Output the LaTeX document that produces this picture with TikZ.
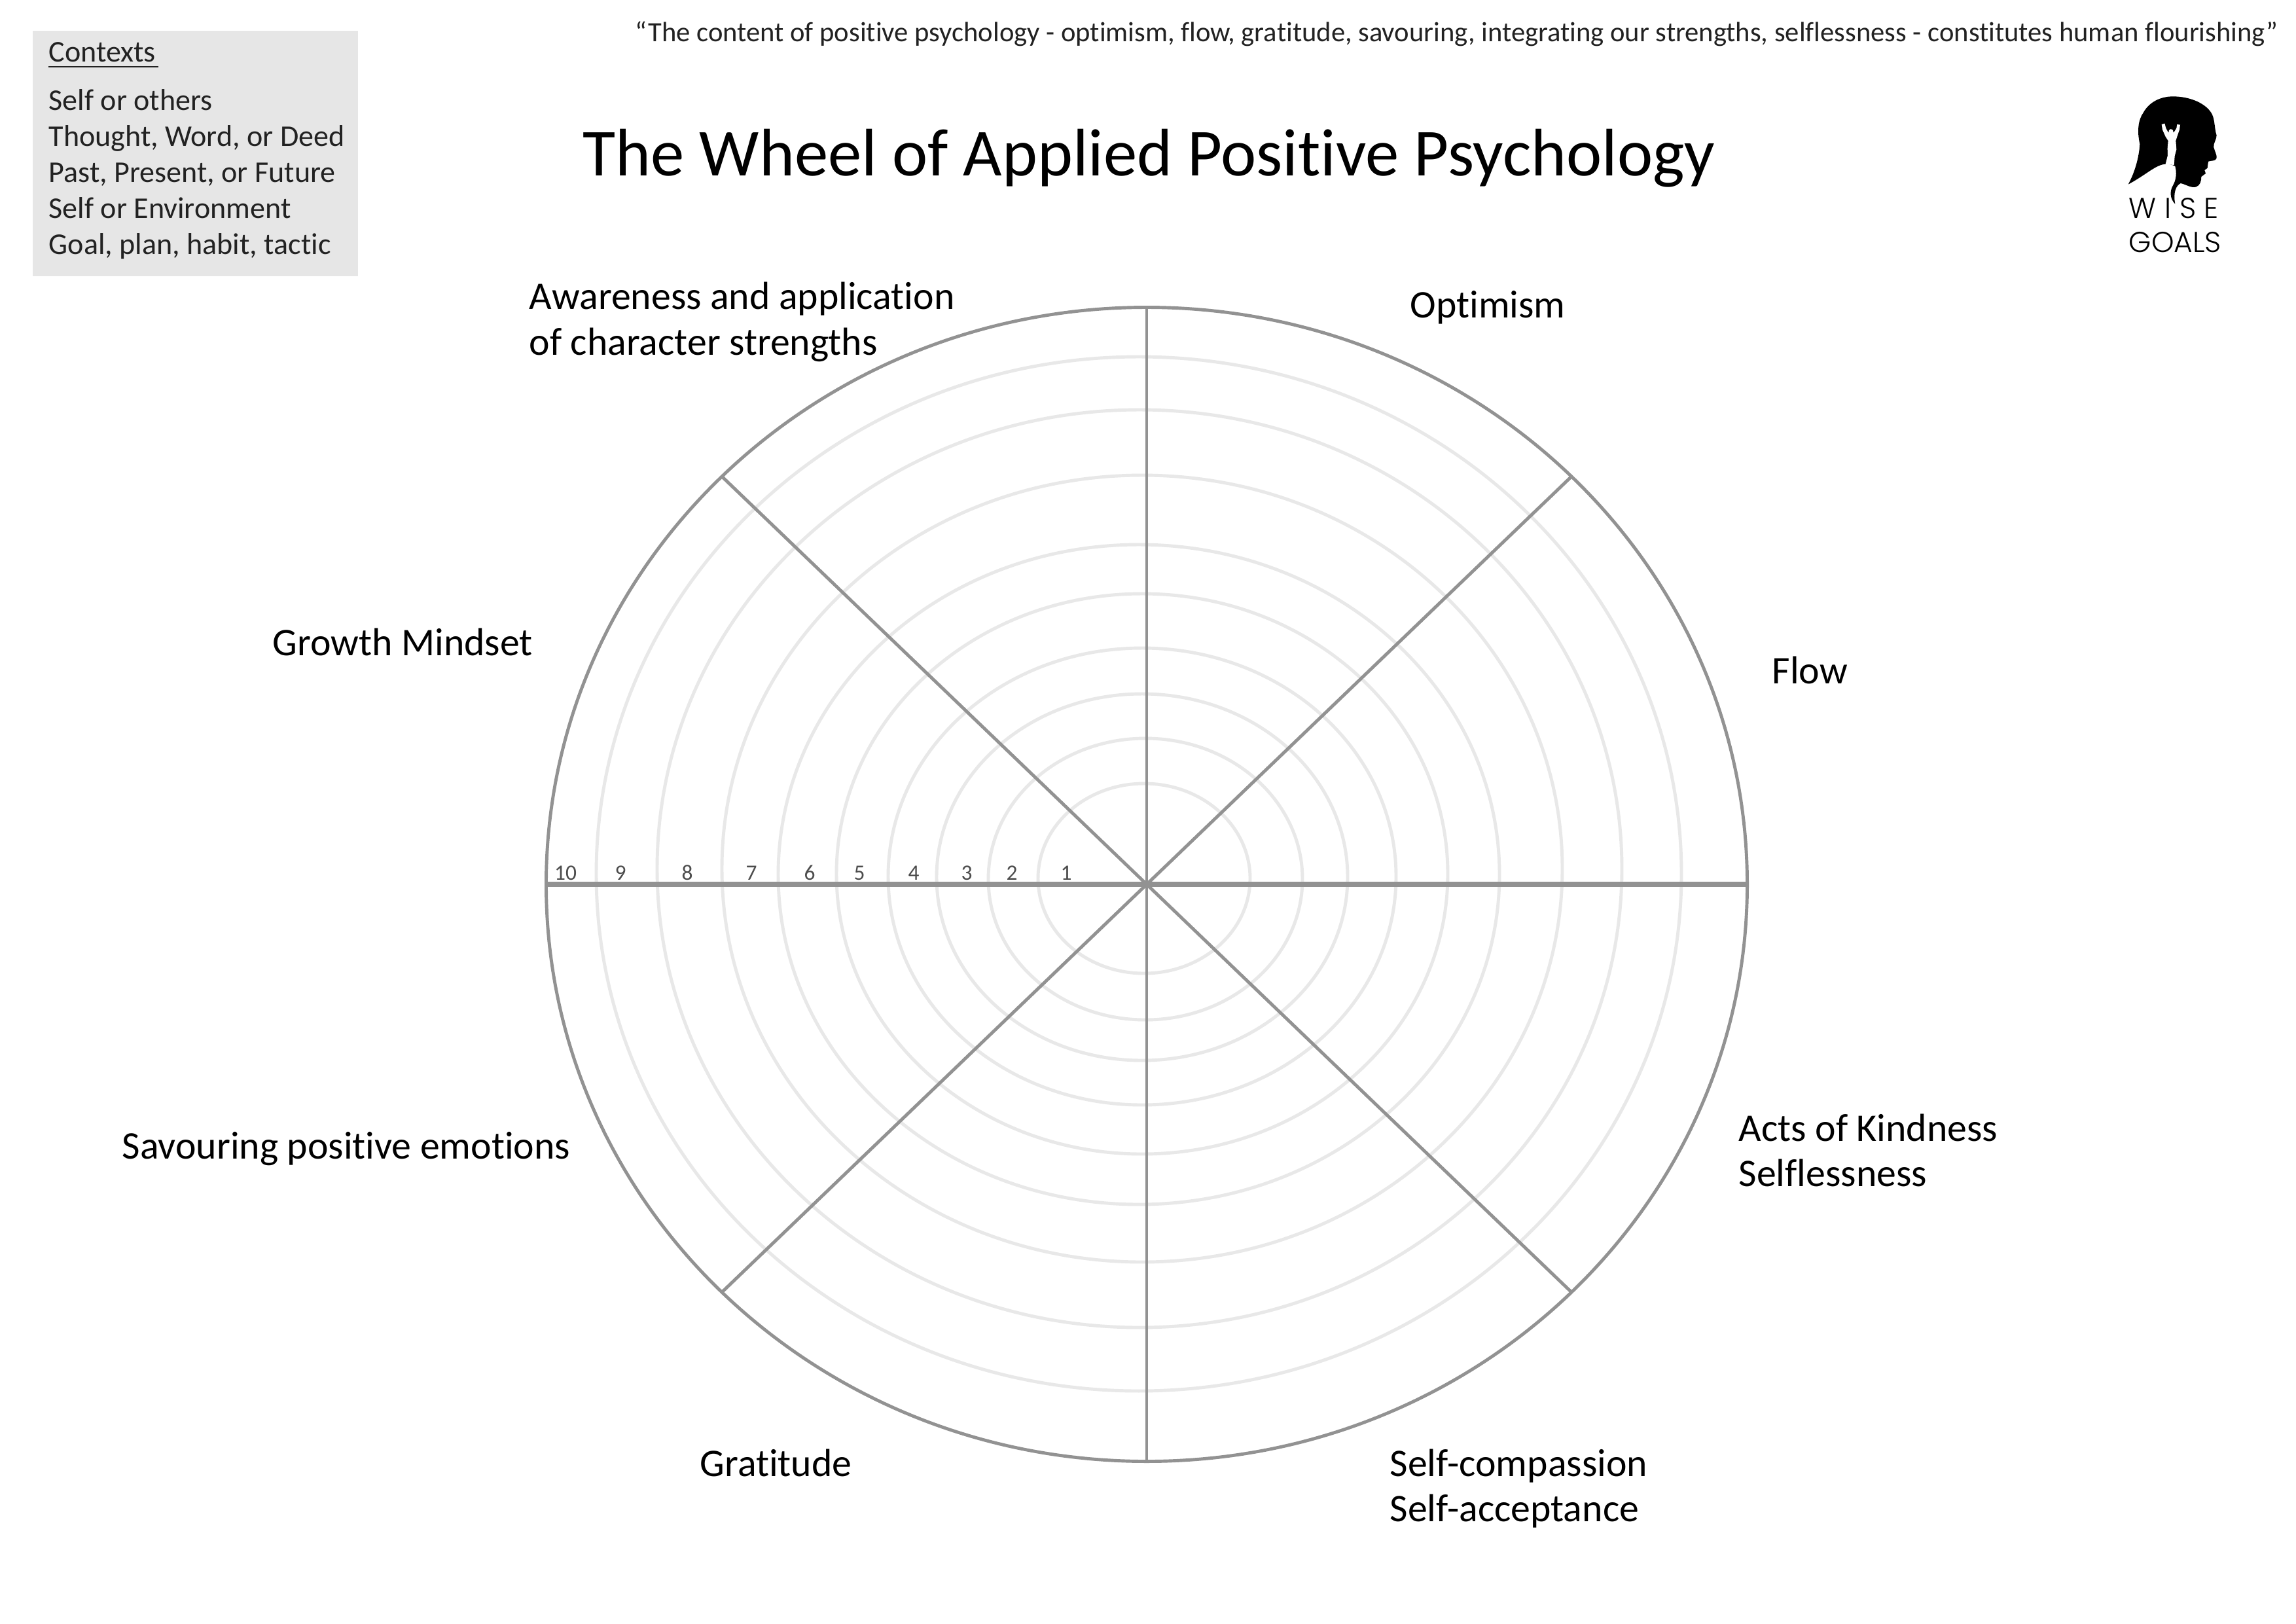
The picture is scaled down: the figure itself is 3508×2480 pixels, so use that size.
\documentclass[tikz,border=0pt]{standalone}
\usepackage{fontspec}
\setmainfont{Carlito}[Ligatures=NoCommon]
\newfontfamily\logofont{Poppins Light}
\definecolor{ringgray}{HTML}{E8E8E8}
\definecolor{spokegray}{HTML}{929292}
\definecolor{boxgray}{HTML}{E6E6E6}
\definecolor{inkgray}{HTML}{222222}
\tikzset{
  ringline/.style={draw=ringgray,line width=1.4pt},
  spoke/.style={draw=spokegray,line width=1.4pt},
  axisline/.style={draw=spokegray,line width=2.1pt},
  rimline/.style={draw=spokegray,line width=1.4pt},
  lab/.style={anchor=base west,inner sep=0pt,font=\fontsize{17}{24}\selectfont,text=black},
  boxtext/.style={anchor=base west,inner sep=0pt,font=\fontsize{13.1}{16}\selectfont,text=inkgray},
  num/.style={anchor=base,inner sep=0pt,font=\fontsize{9.5}{10}\selectfont,text=black!70},
}
\begin{document}
\begin{tikzpicture}[x=0.01cm,y=-0.01cm]
\useasboundingbox (0,0) rectangle (3508,2480);
\fill[white] (0,0) rectangle (3508,2480);
\coordinate (c) at (1752,1351);
% rings: each has its own centre and radii
\foreach \cx/\cy/\rx/\ry in {1748/1342/162/145,1750/1343/240/215,1745/1340/314/280,1745/1339/388/349,1745/1335/467/428,1740/1336/551/504,1745/1327/642/601,1741/1327/737/701,1740/1335/829/790}
  \draw[ringline] (\cx,\cy) ellipse [x radius=\rx*0.01cm,y radius=\ry*0.01cm];
% rim
\draw[rimline] (c) ellipse [x radius=9.17cm,y radius=8.81cm];
% spokes
\draw[spoke] (1752,470) coordinate (st) -- (1752,2232) coordinate (sb);
\draw[axisline] (835,1351) coordinate (sl) -- (2669,1351) coordinate (sr);
\draw[spoke] (1102,727) coordinate (sa) -- (2402,1975) coordinate (sd);
\draw[spoke] (2402,727) coordinate (sb2) -- (1102,1975) coordinate (sc);
% scale numbers
\foreach \n/\x in {10/864,9/948,8/1050,7/1148,6/1237,5/1313,4/1396,3/1477,2/1546,1/1629}
  \node[num] (n\n) at (\x,1344) {\n};
% context box
\fill[boxgray] (50,47) rectangle (547,422);
\node[boxtext] (ctx) at (74,94) {Contexts};
\draw[inkgray,line width=0.6pt] (74,102) -- (242,102);
\node[boxtext] (ctx1) at (74,168) {Self or others};
\node[boxtext] (ctx2) at (74,223) {Thought, Word, or Deed};
\node[boxtext] (ctx3) at (74,278) {Past, Present, or Future};
\node[boxtext] (ctx4) at (74,333) {Self or Environment};
\node[boxtext] (ctx5) at (74,388) {Goal, plan, habit, tactic};
% quote
\node[anchor=base west,inner sep=0pt,font=\fontsize{12.12}{16}\selectfont,text=inkgray] (quote) at (970,63)
 {“The content of positive psychology - optimism, flow, gratitude, savouring, integrating our strengths, selflessness - constitutes human flourishing”};
% title
\node[anchor=base west,inner sep=0pt,font=\fontsize{29.2}{40}\selectfont] (title) at (890,268) {The Wheel of Applied Positive Psychology};
% labels
\node[lab] (l1a) at (808,472) {Awareness and application};
\node[lab] (l1b) at (808,542) {of character strengths};
\node[lab] (l2) at (2154,485) {Optimism};
\node[lab] (l3) at (2707,1044) {Flow};
\node[lab] (l4) at (416,1001) {Growth Mindset};
\node[lab] (l5a) at (2656,1743) {Acts of Kindness};
\node[lab] (l5b) at (2656,1812) {Selflessness};
\node[lab] (l6) at (186,1770) {Savouring positive emotions};
\node[lab] (l7) at (1069,2255) {Gratitude};
\node[lab] (l8a) at (2123,2255) {Self-compassion};
\node[lab] (l8b) at (2123,2324) {Self-acceptance};
% logo
\begin{scope}[shift={(3150,100)},scale=0.3333]
\fill[black] (305,545) .. controls (335,490) and (355,420) .. (358,360)
  .. controls (345,300) and (350,250) .. (375,215)
  .. controls (400,170) and (450,142) .. (510,142)
  .. controls (590,142) and (665,175) .. (690,225)
  .. controls (703,255) and (700,290) .. (710,320)
  .. controls (708,345) and (695,355) .. (697,375)
  .. controls (702,395) and (712,410) .. (710,425)
  .. controls (705,440) and (685,435) .. (672,440)
  -- (668,470) -- (655,480) -- (660,495) -- (640,510)
  .. controls (640,530) and (635,550) .. (615,557)
  .. controls (590,562) and (570,545) .. (545,540)
  .. controls (525,550) and (510,580) .. (520,635)
  .. controls (495,610) and (495,575) .. (510,550)
  .. controls (525,525) and (528,490) .. (520,462)
  .. controls (500,450) and (470,448) .. (445,460)
  .. controls (410,475) and (370,510) .. (305,545) -- cycle;
\fill[white] (458,270) -- (472,266) -- (478,288) -- (488,306) -- (491,308)
  .. controls (486,288) and (514,284) .. (511,308)
  -- (516,304) -- (526,288) -- (529,270) -- (543,272) -- (540,294) -- (529,326) -- (523,345)
  -- (526,385) -- (518,415) -- (515,456) -- (490,454) -- (476,452) -- (486,412) -- (485,380) -- (488,345)
  -- (476,326) -- (462,295) -- cycle;
\end{scope}
\node[anchor=base west,inner sep=0pt,font=\logofont\fontsize{12.5}{14}\selectfont] (wise) at (3252,333) {W\hspace{3.6pt}I\hspace{3.6pt}S\hspace{3.6pt}E};
\node[anchor=base west,inner sep=0pt,font=\logofont\fontsize{12.5}{14}\selectfont] (goals) at (3252,385) {GOALS};
\end{tikzpicture}
\end{document}
